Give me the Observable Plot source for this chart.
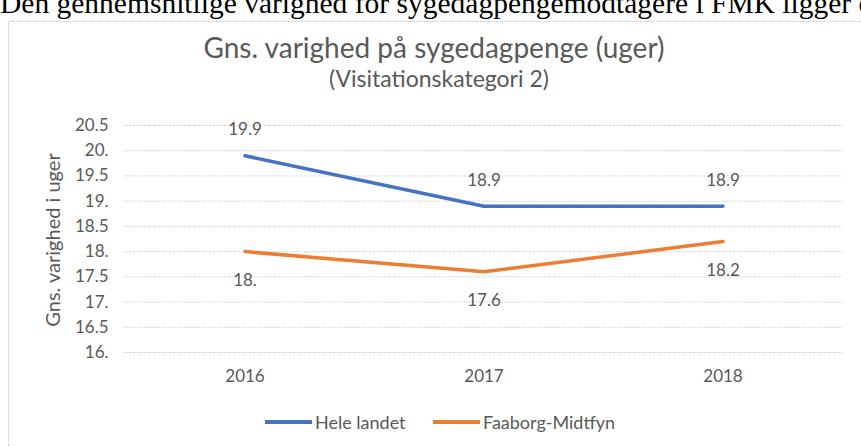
<!DOCTYPE html>
<html>
<head>
<meta charset="utf-8">
<script src="https://cdn.jsdelivr.net/npm/d3@7"></script>
<script src="https://cdn.jsdelivr.net/npm/@observablehq/plot@0.6"></script>
<style>
  html, body { margin: 0; padding: 0; background: #fff; }
  #wrap { position: relative; width: 861px; height: 446px; overflow: hidden; font-family: Lato, "Open Sans", sans-serif; color: #595959; }
  #wrap svg { position: absolute; left: 0; top: 0; }
  .abs { position: absolute; white-space: nowrap; }
  #doc { left: 0; top: -14px; font-family: "Liberation Serif", "DejaVu Serif", serif; font-size: 29.5px; color: #000; line-height: 34px; }
  #frame { left: 8px; top: 21px; width: 900px; height: 500px; border-top: 1.5px dotted #c6c6c6; border-left: 1.5px dotted #c6c6c6; }
  #title { left: 0; width: 868px; text-align: center; top: 31px; font-size: 28px; line-height: 32px; }
  #subtitle { left: 0; width: 878px; text-align: center; top: 64px; font-size: 23px; line-height: 28px; }
  #ylabel { left: 52px; top: 240px; font-size: 20px; transform: translate(-50%, -50%) rotate(-90deg); }
  .leg { top: 411px; font-size: 18px; line-height: 22px; display: flex; align-items: center; }
  .leg span.sw { display: inline-block; width: 47px; height: 3.5px; margin-right: 3px; }
</style>
</head>
<body>
<div id="wrap">
  <div class="abs" id="doc">Den gennemsnitlige varighed for sygedagpengemodtagere i FMK ligger over</div>
  <div class="abs" id="frame"></div>
  <div class="abs" id="title">Gns. varighed på sygedagpenge (uger)</div>
  <div class="abs" id="subtitle">(Visitationskategori 2)</div>
  <div class="abs" id="ylabel">Gns. varighed i uger</div>
  <div class="abs leg" style="left:265px"><span class="sw" style="background:#4472C4"></span>Hele landet</div>
  <div class="abs leg" style="left:433px"><span class="sw" style="background:#ED7D31"></span>Faaborg-Midtfyn</div>
</div>
<script>
const years = ["2016", "2017", "2018"];
const heleLandet = [19.9, 18.9, 18.9];
const faaborgMidtfyn = [18.0, 17.6, 18.2];
const heleLabels = ["19.9", "18.9", "18.9"];
const faaborgLabels = ["18.", "17.6", "18.2"];
const seriesNames = ["Hele landet", "Faaborg-Midtfyn"];
const seriesColors = ["#4472C4", "#ED7D31"];
const yTicks = [16, 16.5, 17, 17.5, 18, 18.5, 19, 19.5, 20, 20.5];
const yTickLabels = ["16.", "16.5", "17.", "17.5", "18.", "18.5", "19.", "19.5", "20.", "20.5"];

const rows = [];
years.forEach((yr, i) => {
  rows.push({year: yr, value: heleLandet[i], label: heleLabels[i], series: seriesNames[0]});
  rows.push({year: yr, value: faaborgMidtfyn[i], label: faaborgLabels[i], series: seriesNames[1]});
});
const hele = rows.filter(d => d.series === seriesNames[0]);
const faa = rows.filter(d => d.series === seriesNames[1]);

const chart = Plot.plot({
  width: 861,
  height: 446,
  marginLeft: 124,
  marginRight: 18,
  marginTop: 125,
  marginBottom: 94,
  style: {fontFamily: "Lato, 'Open Sans', sans-serif", fontSize: "17px", color: "#595959", background: "transparent", overflow: "visible"},
  x: {type: "band", domain: years, padding: 0, label: null, tickSize: 0, tickPadding: 17},
  y: {domain: [16, 20.5], ticks: yTicks, tickFormat: d => yTickLabels[yTicks.indexOf(d)], label: null, tickSize: 0, tickPadding: 16},
  color: {domain: seriesNames, range: seriesColors},
  marks: [
    Plot.ruleY(yTicks, {stroke: "#bdbdbd", strokeWidth: 1, strokeDasharray: "1 1.5"}),
    Plot.line(rows, {x: "year", y: "value", z: "series", stroke: "series", strokeWidth: 3.5, strokeLinejoin: "round"}),
    Plot.text(hele, {x: "year", y: "value", text: "label", dy: -26, fill: "#595959", fontSize: 17}),
    Plot.text(faa, {x: "year", y: "value", text: "label", dy: 29, fill: "#595959", fontSize: 17})
  ]
});
document.getElementById("wrap").insertBefore(chart, document.getElementById("title"));
</script>
</body>
</html>
